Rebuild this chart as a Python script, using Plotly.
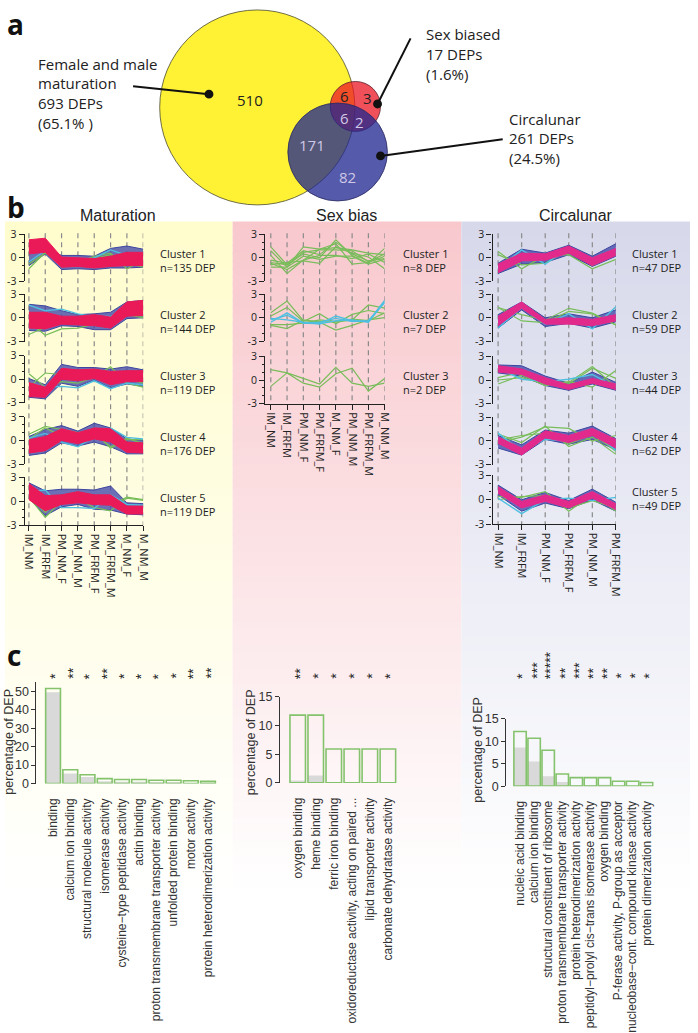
import plotly.graph_objects as go

W = 698
H = 1033

MAT_LABELS = ["IM_NM", "IM_FRFM", "PM_NM_F", "PM_NM_M", "PM_FRFM_F", "PM_FRFM_M", "M_NM_F", "M_NM_M"]
SEX_LABELS = ["IM_NM", "IM_FRFM", "PM_NM_F", "PM_FRFM_F", "M_NM_F", "PM_NM_M", "PM_FRFM_M", "M_NM_M"]
CIR_LABELS = ["IM_NM", "IM_FRFM", "PM_NM_F", "PM_FRFM_F", "PM_NM_M", "PM_FRFM_M"]

# maturation clusters: green and cyan single lines, blue and red envelopes
MAT1_GREEN = [[-1.4, 0.7, -0.7, -0.6, 0.2, 0.6, -1.4, -0.3], [-0.8, 0.6, -0.6, -0.9, -0.1, 0.4, -0.7, -1.2]]
MAT1_CYAN = [[-0.5, 0.9, -0.6, -0.8, 0.0, 1.0, 0.3, 0.7]]
MAT1_BLUE = [[1.5, 1.3, 0.3, 0.3, 0.2, 1.2, 1.5, 1.1], [-1.0, 0.5, -1.5, -1.4, -1.5, -1.3, -1.3, -1.2]]
MAT1_BAND = [[2.3, 2.5, 0.1, 0.0, -0.1, 0.2, 0.7, 0.7], [0.5, 0.7, -1.2, -1.1, -1.3, -1.1, -1.0, -1.0]]

MAT2_GREEN = [[-0.5, -2.2, -1.4, -1.3, -0.8, -0.9, 0.4, 0.0], [-2.1, -1.2, -0.5, -0.7, -0.9, -1.0, 0.6, 0.2]]
MAT2_CYAN = [[1.6, 0.9, 1.1, 0.5, 0.1, 0.2, 1.0, 0.5]]
MAT2_BLUE = [[1.7, 1.5, 0.9, 0.4, 0.5, 0.7, 2.0, 2.2], [-1.6, -1.7, -1.0, -1.1, -1.5, -1.5, -0.1, 0.0]]
MAT2_BAND = [[0.7, 0.7, 0.2, 0.2, 0.4, 0.1, 2.0, 2.2], [-1.3, -1.4, -0.8, -0.9, -1.0, -1.3, 0.2, 0.3]]

MAT3_GREEN = [[0.7, -1.0, -0.3, -0.5, 0.3, 1.6, -0.5, -1.0], [-1.0, 0.8, 0.6, 0.0, 0.5, -0.6, 0.0, -0.5]]
MAT3_CYAN = [[-0.4, -1.0, -0.9, -1.1, -0.2, -1.2, -0.5, -0.7]]
MAT3_BLUE = [[0.1, -0.7, 1.9, 1.5, 1.5, 1.3, 1.6, 1.2], [-2.3, -2.5, -0.5, -0.9, -0.1, -1.1, -0.6, -0.9]]
MAT3_BAND = [[-0.4, -1.0, 1.4, 1.2, 1.3, 1.0, 1.1, 1.1], [-2.2, -2.3, 0.0, -0.2, 0.1, -0.7, -0.3, -0.3]]

MAT4_GREEN = [[0.8, 1.8, 1.4, 1.0, 1.2, -1.0, 0.1, 0.1], [0.2, 1.6, 0.6, 0.5, 0.9, -0.8, 0.3, -0.4]]
MAT4_CYAN = [[0.3, 0.9, -0.2, -0.8, 0.5, 1.6, 0.4, 0.2]]
MAT4_BLUE = [[0.5, 1.4, 1.9, 1.2, 2.2, 1.6, 0.2, 0.0], [-1.9, -1.6, -0.3, -0.7, -0.2, -0.8, -1.7, -1.7]]
MAT4_BAND = [[0.1, 0.5, 1.5, 1.0, 1.6, 1.5, -0.2, -0.3], [-1.6, -1.3, 0.0, -0.4, 0.2, -0.2, -1.5, -1.6]]

MAT5_GREEN = [[0.5, -2.0, 0.0, 0.3, -0.8, -1.2, 0.4, 0.1], [0.7, -1.4, 0.3, 0.6, 0.5, -0.5, 0.5, 0.2]]
MAT5_CYAN = [[1.2, 1.4, -0.8, -0.8, -0.9, 0.8, -0.4, -0.5]]
MAT5_BLUE = [[2.3, 1.3, 1.5, 1.5, 1.4, 1.9, -0.2, -0.3], [0.4, -1.8, -0.7, -0.4, -1.0, -1.1, -1.6, -1.7]]
MAT5_BAND = [[2.2, 0.7, 0.8, 1.2, 0.8, 0.8, -0.6, -0.6], [0.2, -1.2, -0.4, -0.2, -0.4, -0.5, -1.6, -1.6]]

# sex bias clusters are few enough to read line by line
SEX1_GREEN = [
    [1.4, -0.9, 0.5, 0.0, 2.3, 0.3, -0.7, 1.2],
    [0.9, -1.2, 1.4, 1.1, 1.3, 1.0, 0.6, 0.4],
    [0.3, -2.0, -0.3, 1.1, 1.8, -0.8, -0.6, 0.2],
    [-0.3, -0.7, 0.9, 0.4, 2.0, 0.5, -0.4, -0.1],
    [-0.7, -1.5, -0.3, 0.3, 0.3, -0.1, 0.5, -0.6],
    [-0.9, -0.6, -0.4, -0.7, 1.4, 0.6, 0.1, -1.4],
    [-1.2, -1.2, 0.2, -0.2, 0.2, 0.2, -0.8, -0.2],
    [-0.6, -0.9, 0.7, 1.0, 1.0, 0.9, -0.5, 0.5],
]
SEX2_GREEN = [
    [0.6, 2.1, -0.4, -0.5, -0.6, -0.3, 1.6, 1.2],
    [0.2, 1.3, -0.5, 0.5, -0.8, 0.4, 0.9, 0.5],
    [-1.0, -1.4, -0.3, -0.6, -1.6, -1.0, -0.3, 0.0],
    [-0.9, -0.9, -0.7, -0.3, -0.5, -0.2, -0.4, 0.6],
]
SEX2_CYAN = [
    [-0.3, 0.3, -0.7, -0.6, -0.1, -0.5, -0.4, 1.9],
    [-0.1, -0.3, -0.6, -0.8, -0.4, -0.3, -0.6, 2.0],
    [-0.6, 0.6, -0.7, -0.8, 0.2, -0.4, -0.5, 2.2],
]
SEX3_GREEN = [[1.3, 0.9, 0.2, -0.5, 1.6, -0.4, -0.8, -0.4], [-0.8, 0.9, -0.4, -0.9, 0.8, 1.5, -1.4, 0.2]]

CIR1_GREEN = [[0.8, -1.4, 0.3, 0.4, -1.4, -0.2], [0.4, -0.9, -0.7, 1.0, -1.0, 0.5]]
CIR1_CYAN = [[-1.4, 1.0, -0.8, 1.3, -0.8, 0.7]]
CIR1_BLUE = [[-0.7, 1.1, 0.6, 1.6, 0.2, 1.8], [-2.0, -0.8, -0.6, 0.4, -1.1, 0.2]]
CIR1_BAND = [[-0.8, 0.6, 0.5, 1.5, 0.0, 1.2], [-1.9, -0.4, -0.3, 0.6, -1.0, 0.3]]

CIR2_GREEN = [[1.3, 0.4, -0.3, 1.2, 0.6, -0.9], [1.3, -0.4, -0.6, 0.8, 0.5, -0.9]]
CIR2_CYAN = [[-1.3, 1.3, -0.8, 0.5, -1.4, 1.4]]
CIR2_BLUE = [[0.4, 2.0, 0.0, 0.5, 0.0, 1.0], [-1.3, 1.0, -1.1, -0.7, -1.3, -0.5]]
CIR2_BAND = [[0.2, 2.0, -0.2, 0.0, -0.2, 0.4], [-1.0, 1.2, -0.8, -0.8, -1.0, -0.4]]

CIR3_GREEN = [[0.3, 1.0, -0.3, -0.3, 1.7, -0.9], [-0.5, 0.6, -0.7, -0.2, -0.9, 1.2], [0.0, 0.3, -0.5, -0.5, 1.5, 0.2]]
CIR3_CYAN = [[1.5, 0.1, -0.2, 0.1, 0.7, -0.9]]
CIR3_BLUE = [[1.9, 1.8, 0.5, -0.4, 1.0, -0.3], [0.9, 0.5, -0.7, -1.3, -0.5, -1.3]]
CIR3_BAND = [[1.8, 1.4, 0.3, -0.6, 0.2, -0.5], [1.0, 0.7, -0.5, -1.2, -0.4, -1.2]]

CIR4_GREEN = [[0.9, -0.2, 1.9, -0.7, 0.5, -1.7], [-0.2, 0.5, 1.8, 1.6, 0.0, 0.7], [0.1, 0.7, 1.0, -0.4, 0.9, -1.3]]
CIR4_CYAN = [[1.0, -1.3, 0.2, 0.0, 1.2, -1.2]]
CIR4_BLUE = [[0.7, -0.5, 1.4, 1.0, 1.9, 0.3], [-0.9, -1.8, 0.2, -0.4, 0.2, -1.1]]
CIR4_BAND = [[0.5, -0.9, 1.3, 0.7, 1.6, 0.2], [-0.3, -1.8, 0.4, -0.2, 0.7, -0.9]]

CIR5_GREEN = [[0.4, 0.3, 1.0, -1.4, 0.6, -1.4], [0.0, 0.4, 0.5, -1.0, -0.1, -1.0]]
CIR5_CYAN = [[0.2, -1.7, 0.0, 0.2, -0.1, 0.3]]
CIR5_BLUE = [[1.8, 0.0, 0.9, -0.1, 1.3, -0.3], [0.6, -1.4, -0.4, -1.1, 0.0, -1.4]]
CIR5_BAND = [[1.6, -0.2, 0.6, -0.2, 1.0, -0.5], [0.8, -1.0, -0.2, -1.0, 0.2, -1.2]]

# GO enrichment bars
MAT_TERMS = ["binding", "calcium ion binding", "structural molecule activity", "isomerase activity",
             "cysteine−type peptidase activity", "actin binding", "proton transmembrane transporter activity",
             "unfolded protein binding", "motor activity", "protein heterodimerization activity"]
MAT_PCT = [51.5, 7.5, 4.8, 2.7, 2.2, 2.2, 1.8, 1.8, 1.5, 1.2]
MAT_BG = [49.5, 5.5, 3.5, 1.2, 1.0, 1.0, 0.7, 0.7, 0.3, 0.2]
MAT_STARS = ["*", "**", "*", "**", "*", "*", "*", "*", "**", "**"]

SEX_TERMS = ["oxygen binding", "heme binding", "ferric iron binding",
             "oxidoreductase activity, acting on paired ...", "lipid transporter activity",
             "carbonate dehydratase activity"]
SEX_PCT = [11.8, 11.8, 5.9, 5.9, 5.9, 5.9]
SEX_BG = [0.4, 1.3, 0.0, 0.0, 0.0, 0.0]
SEX_STARS = ["**", "*", "*", "*", "*", "*"]

CIR_TERMS = ["nucleic acid binding", "calcium ion binding", "structural constituent of ribosome",
             "proton transmembrane transporter activity", "protein heterodimerization activity",
             "peptidyl−prolyl cis−trans isomerase activity", "oxygen binding",
             "P-ferase activity, P-group as acceptor", "nucleobase−cont. compound kinase activity",
             "protein dimerization activity"]
CIR_PCT = [12.2, 10.7, 8.0, 2.7, 1.9, 1.9, 1.9, 1.1, 1.1, 0.8]
CIR_BG = [8.6, 5.5, 2.2, 0.9, 0.2, 0.2, 0.3, 0.0, 0.0, 0.0]
CIR_STARS = ["*", "***", "*****", "**", "***", "**", "**", "*", "*", "*"]

GREEN = "#78bd5a"
CYAN = "#4fbfe0"
BLUE = "#3c46a0"
BLUE_FILL = "rgba(70,75,170,0.8)"
RED = "#ea1a58"
MAGENTA = "#e22a8c"
SANS = "Liberation Sans"
HUMAN = "Open Sans"


def px(x):
    return x / W


def py(y):
    return 1 - y / H


fig = go.Figure()
shapes = []
notes = []
axis_count = 0


def note(x, y, text, size=11, color="#222", font=HUMAN, anchor="left", angle=0, **kw):
    notes.append(dict(x=px(x), y=py(y), xref="paper", yref="paper", text=text, showarrow=False,
                      xanchor=anchor, yanchor="middle", textangle=angle, align="left",
                      font=dict(family=font, size=size, color=color), **kw))


def new_axes(left, right, top, bottom, xrange, yrange, x_opts, y_opts):
    global axis_count
    axis_count += 1
    n = "" if axis_count == 1 else str(axis_count)
    fig.layout["xaxis" + n] = dict(domain=[px(left), px(right)], range=xrange, anchor="y" + n, **x_opts)
    fig.layout["yaxis" + n] = dict(domain=[py(bottom), py(top)], range=yrange, anchor="x" + n, **y_opts)
    return "x" + n, "y" + n


def line_panel(axis_x, first_x, step, top, bottom, labels, green, cyan, blue, band, band_color, last=False):
    count = len(labels)
    xs = list(range(count))
    if last:
        x_opts = dict(showline=True, linecolor="#222", linewidth=1.4, ticks="outside", ticklen=5, tickcolor="#222",
                      tickvals=xs, ticktext=labels, tickangle=90, showgrid=False, zeroline=False,
                      tickfont=dict(family=HUMAN, size=11, color="#222"))
    else:
        x_opts = dict(visible=False)
    y_opts = dict(showline=True, linecolor="#222", linewidth=1.2, ticks="outside", ticklen=5, tickcolor="#222",
                  tickvals=[-3, 0, 3], ticktext=["-3", "0", "3"], showgrid=False, zeroline=False,
                  tickfont=dict(family=HUMAN, size=10.5, color="#222"),
                  minor=dict(ticks="outside", ticklen=2, tickcolor="#222", dtick=1))
    xa, ya = new_axes(axis_x, first_x + step * (count - 1), top, bottom,
                      [-(first_x - axis_x) / step, count - 1], [-3, 3], x_opts, y_opts)
    if blue:
        fig.add_trace(go.Scatter(x=xs, y=blue[1], xaxis=xa, yaxis=ya, mode="lines", line=dict(color=BLUE, width=1)))
        fig.add_trace(go.Scatter(x=xs, y=blue[0], xaxis=xa, yaxis=ya, mode="lines", fill="tonexty",
                                 fillcolor=BLUE_FILL, line=dict(color=BLUE, width=1)))
    for vals in green:
        fig.add_trace(go.Scatter(x=xs, y=vals, xaxis=xa, yaxis=ya, mode="lines", line=dict(color=GREEN, width=1.2)))
    for vals in cyan:
        fig.add_trace(go.Scatter(x=xs, y=vals, xaxis=xa, yaxis=ya, mode="lines", line=dict(color=CYAN, width=1.4)))
    if band:
        fig.add_trace(go.Scatter(x=xs, y=band[1], xaxis=xa, yaxis=ya, mode="lines",
                                 line=dict(color=band_color, width=1)))
        fig.add_trace(go.Scatter(x=xs, y=band[0], xaxis=xa, yaxis=ya, mode="lines", fill="tonexty",
                                 fillcolor=band_color, line=dict(color=band_color, width=1)))
    return xa


def dashes(xa, count, top, bottom):
    for i in range(count):
        shapes.append(dict(type="line", xref=xa, yref="paper", x0=i, x1=i, y0=py(top), y1=py(bottom), layer="below",
                           line=dict(color="#8a8a8a", width=1.2, dash="5px,4px")))


def bar_panel(axis_x, first_x, step, zero, top, ymax, yticks, terms, pct, bg, stars, bar_w):
    xs = list(range(len(terms)))
    x_opts = dict(showline=False, tickvals=xs, ticktext=terms, tickangle=-90, ticks="outside", ticklen=9,
                  tickcolor="rgba(0,0,0,0)", showgrid=False, zeroline=False,
                  tickfont=dict(family=SANS, size=12, color="#333"))
    y_opts = dict(showline=True, linecolor="#333", linewidth=1.2, ticks="outside", ticklen=4, tickcolor="#333",
                  tickvals=yticks, showgrid=False, zeroline=False,
                  tickfont=dict(family=SANS, size=12.5, color="#333"))
    right = first_x + step * (len(terms) - 0.5)
    xa, ya = new_axes(axis_x, right, top, zero, [-(first_x - axis_x) / step, len(terms) - 0.5], [0, ymax],
                      x_opts, y_opts)
    fig.add_trace(go.Bar(x=xs, y=bg, xaxis=xa, yaxis=ya, width=bar_w, marker=dict(color="#d9d9d9", line=dict(width=0))))
    fig.add_trace(go.Bar(x=xs, y=pct, xaxis=xa, yaxis=ya, width=bar_w,
                         marker=dict(color="rgba(0,0,0,0)", line=dict(color="#84c26c", width=1.6))))
    for i, s in enumerate(stars):
        notes.append(dict(x=i, y=py(688), xref=xa, yref="paper", text=s, showarrow=False, textangle=-90,
                          xanchor="center", yanchor="bottom", xshift=2,
                          font=dict(family=SANS, size=14, color="#222")))


# background gradients of the three panels
panels = [(3, 234, (255, 252, 205)), (234, 466, (248, 200, 205)), (466, 698, (215, 217, 235))]
for left, right, col in panels:
    for y in range(219, 900, 8):
        f = (y - 219) / (900 - 219)
        c = [round(v + (255 - v) * f) for v in col]
        shapes.append(dict(type="rect", xref="paper", yref="paper", x0=px(left), x1=px(right),
                           y0=py(y), y1=py(y + 9), layer="below", line=dict(width=0),
                           fillcolor="rgb(%d,%d,%d)" % tuple(c)))

# venn diagram
shapes.append(dict(type="circle", xref="paper", yref="paper", x0=px(160), x1=px(358), y0=py(202), y1=py(3),
                   fillcolor="#fff133", line=dict(color="#4a4a30", width=0.8)))
shapes.append(dict(type="circle", xref="paper", yref="paper", x0=px(333), x1=px(384), y0=py(127), y1=py(76),
                   fillcolor="rgba(235,25,38,0.76)", line=dict(color="#5a2030", width=0.8)))
shapes.append(dict(type="circle", xref="paper", yref="paper", x0=px(290), x1=px(391), y0=py(198), y1=py(98),
                   fillcolor="rgba(31,38,143,0.76)", line=dict(color="#2a2a60", width=0.8)))
for x0, y0, x1, y1 in [(133, 81, 210, 89), (414.5, 32, 381, 99), (508, 135, 384, 152)]:
    shapes.append(dict(type="line", xref="paper", yref="paper", x0=px(x0), x1=px(x1), y0=py(y0), y1=py(y1),
                       line=dict(color="#111", width=2)))
    shapes.append(dict(type="circle", xref="paper", yref="paper", x0=px(x1 - 4.5), x1=px(x1 + 4.5),
                       y0=py(y1 + 4.5), y1=py(y1 - 4.5), fillcolor="#111", line=dict(width=0)))

for x, y, t, c in [(252, 95, "510", "#222"), (347, 91, "6", "#222"), (371, 93, "3", "#222"),
                   (347, 113, "6", "#cfc8e6"), (363, 117, "2", "#cfc8e6"), (315, 141, "171", "#cfc8e6"),
                   (351, 174, "82", "#cfc8e6")]:
    note(x, y, t, size=15, color=c, anchor="center")

for i, t in enumerate(["Female and male", "maturation", "693 DEPs", "(65.1% )"]):
    note(34, 58 + 20 * i, t, size=15)
for i, t in enumerate(["Sex biased", "17 DEPs", "(1.6%)"]):
    note(428, 28 + 20 * i, t, size=15)
for i, t in enumerate(["Circalunar", "261 DEPs", "(24.5%)"]):
    note(512, 114 + 20 * i, t, size=15)

for x, y, t in [(3, 17, "a"), (3, 204, "b"), (3, 661, "c")]:
    note(x, y, "<b>%s</b>" % t, size=28, color="#111")

for x, t in [(118, "Maturation"), (350, "Sex bias"), (582, "Circalunar")]:
    note(x, 213, t, size=16, color="#222", font=SANS, anchor="center")

# panel b, maturation
mat_rows = [(232, 280), (293, 341.5), (356, 404), (418.5, 466.5), (480, 529)]
mat_data = [(MAT1_GREEN, MAT1_CYAN, MAT1_BLUE, MAT1_BAND), (MAT2_GREEN, MAT2_CYAN, MAT2_BLUE, MAT2_BAND),
            (MAT3_GREEN, MAT3_CYAN, MAT3_BLUE, MAT3_BAND), (MAT4_GREEN, MAT4_CYAN, MAT4_BLUE, MAT4_BAND),
            (MAT5_GREEN, MAT5_CYAN, MAT5_BLUE, MAT5_BAND)]
for i, (row, d) in enumerate(zip(mat_rows, mat_data)):
    xa = line_panel(23, 27.3, 16.57, row[0], row[1], MAT_LABELS, d[0], d[1], d[2], d[3], RED, last=i == 4)
dashes(xa, 8, 231, 530)
for y, t in [(259, "Cluster 1<br>n=135 DEP"), (321, "Cluster 2<br>n=144 DEP"), (383, "Cluster 3<br>n=119 DEP"),
             (446, "Cluster 4<br>n=176 DEP"), (508, "Cluster 5<br>n=119 DEP")]:
    note(158, y, t, size=11)

# panel b, sex bias
sex_rows = [(232, 280), (293, 341), (356.5, 405)]
sex_data = [(SEX1_GREEN, []), (SEX2_GREEN, SEX2_CYAN), (SEX3_GREEN, [])]
for i, (row, d) in enumerate(zip(sex_rows, sex_data)):
    xa = line_panel(267, 272.7, 16.5, row[0], row[1], SEX_LABELS, d[0], d[1], None, None, RED, last=i == 2)
dashes(xa, 8, 231, 406)
for y, t in [(259, "Cluster 1<br>n=8 DEP"), (321, "Cluster 2<br>n=7 DEP"), (383, "Cluster 3<br>n=2 DEP")]:
    note(405, y, t, size=11)

# panel b, circalunar
cir_rows = [(232, 280), (293, 341.5), (356.5, 405), (419, 467), (478, 528)]
cir_data = [(CIR1_GREEN, CIR1_CYAN, CIR1_BLUE, CIR1_BAND), (CIR2_GREEN, CIR2_CYAN, CIR2_BLUE, CIR2_BAND),
            (CIR3_GREEN, CIR3_CYAN, CIR3_BLUE, CIR3_BAND), (CIR4_GREEN, CIR4_CYAN, CIR4_BLUE, CIR4_BAND),
            (CIR5_GREEN, CIR5_CYAN, CIR5_BLUE, CIR5_BAND)]
for i, (row, d) in enumerate(zip(cir_rows, cir_data)):
    xa = line_panel(497.7, 503.3, 23.9, row[0], row[1], CIR_LABELS, d[0], d[1], d[2], d[3], MAGENTA, last=i == 4)
dashes(xa, 6, 231, 529)
for y, t in [(259, "Cluster 1<br>n=47 DEP"), (321, "Cluster 2<br>n=59 DEP"), (383, "Cluster 3<br>n=44 DEP"),
             (446, "Cluster 4<br>n=62 DEP"), (502, "Cluster 5<br>n=49 DEP")]:
    note(637, y, t, size=11)

# panel c
bar_panel(35, 51.8, 17.47, 792.7, 689, 55, [0, 10, 20, 30, 40, 50], MAT_TERMS, MAT_PCT, MAT_BG, MAT_STARS, 0.86)
bar_panel(282, 300, 18.3, 792, 704, 15, [0, 5, 10, 15], SEX_TERMS, SEX_PCT, SEX_BG, SEX_STARS, 0.86)
bar_panel(511.7, 525.6, 14.27, 795.3, 726.7, 15, [0, 5, 10, 15], CIR_TERMS, CIR_PCT, CIR_BG, CIR_STARS, 0.88)
note(7, 750, "percentage of DEP", size=12.5, color="#333", font=SANS, anchor="center", angle=-90)
note(252, 750, "percentage of DEP", size=12.5, color="#333", font=SANS, anchor="center", angle=-90)
note(483, 758, "percentage of DEP", size=12.5, color="#333", font=SANS, anchor="center", angle=-90)

fig.update_layout(width=W, height=H, margin=dict(l=0, r=0, t=0, b=0), showlegend=False, barmode="overlay",
                  paper_bgcolor="white", plot_bgcolor="rgba(0,0,0,0)", shapes=shapes, annotations=notes)
# the page's default body margin would push everything 8px off
fig.write_html("out.html", config={"displayModeBar": False}, post_script="document.body.style.margin='0';")
